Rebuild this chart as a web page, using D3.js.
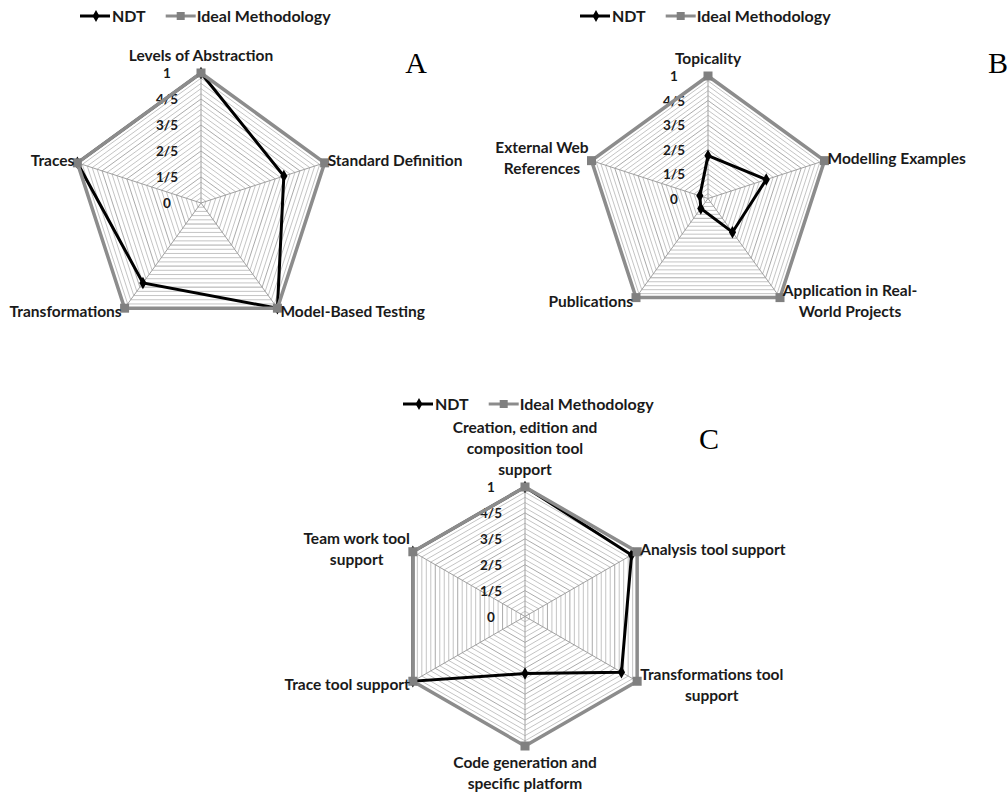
<!DOCTYPE html>
<html>
<head>
<meta charset="utf-8">
<script src="https://d3js.org/d3.v7.min.js"></script>
<title>NDT radar charts</title>
<style>
  body { margin: 0; background: #fff; }
  text { font-family: Lato, "Open Sans", sans-serif; font-weight: bold; fill: #1a1a1a; }
  .letter { font-family: "Liberation Serif", "DejaVu Serif", serif; font-weight: normal; fill: #000; }
</style>
</head>
<body>
<svg id="chart" width="1008" height="794"></svg>
<script>
// data
var series = ["NDT", "Ideal Methodology"];
var tickValues = [0, 0.2, 0.4, 0.6, 0.8, 1];
var tickLabels = ["0", "1/5", "2/5", "3/5", "4/5", "1"];

var axesA = [["Levels of Abstraction"], ["Standard Definition"], ["Model-Based Testing"], ["Transformations"], ["Traces"]];
var ndtA = [1, 0.67, 1, 0.76, 1];
var idealA = [1, 1, 1, 1, 1];

var axesB = [["Topicality"], ["Modelling Examples"], ["Application in Real-", "World Projects"], ["Publications"], ["External Web", "References"]];
var ndtB = [0.35, 0.5, 0.34, 0.1, 0.07];
var idealB = [1, 1, 1, 1, 1];

var axesC = [["Creation, edition and", "composition tool", "support"], ["Analysis tool support"], ["Transformations tool", "support"],
             ["Code generation and", "specific platform"], ["Trace tool support"], ["Team work tool", "support"]];
var ndtC = [1, 0.95, 0.86, 0.44, 1, 1];
var idealC = [1, 1, 1, 1, 1, 1];

var svg = d3.select("#chart");

function legend(x, y) {
  var g = svg.append("g").attr("transform", "translate(" + x + "," + y + ")");
  // NDT
  g.append("line").attr("x1", 0).attr("x2", 30).attr("stroke", "#000").attr("stroke-width", 3);
  g.append("path").attr("d", d3.symbol(d3.symbolDiamond, 40)()).attr("transform", "translate(16,0)").attr("fill", "#000");
  var t1 = g.append("text").attr("x", 32).attr("y", 5.5).style("font-size", "16px").text(series[0]);
  var x2 = 32 + t1.node().getComputedTextLength() + 20;
  g.append("line").attr("x1", x2).attr("x2", x2 + 30).attr("stroke", "#8c8c8c").attr("stroke-width", 3);
  g.append("rect").attr("x", x2 + 11).attr("y", -4).attr("width", 8).attr("height", 8).attr("fill", "#808080");
  g.append("text").attr("x", x2 + 31).attr("y", 5.5).style("font-size", "16px").text(series[1]);
}

function radar(o) {
  var n = o.axes.length;
  var g = svg.append("g").attr("transform", "translate(" + o.cx + "," + o.cy + ")");
  var r = d3.scaleLinear().domain([0, 1]).range([0, o.r]);
  var ang = function(i) { return i * 2 * Math.PI / n; };
  var px = function(v, i) { return r(v) * Math.sin(ang(i)); };
  var py = function(v, i) { return -r(v) * Math.cos(ang(i)); };
  var line = d3.lineRadial()
    .angle(function(d, i) { return ang(i); })
    .radius(function(d) { return r(d); })
    .curve(d3.curveLinearClosed);

  // concentric gridlines (minor every 1/25)
  var rings = d3.range(1, 26).map(function(k) { return k / 25; });
  g.selectAll(".ring").data(rings).enter().append("path")
    .attr("d", function(v) { return line(o.axes.map(function() { return v; })); })
    .attr("fill", "none")
    .attr("stroke", function(v, i) { return (i + 1) % 5 == 0 ? "#a0a0a0" : "#bdbdbd"; })
    .attr("stroke-width", 0.9);

  // spokes
  g.selectAll(".spoke").data(o.axes).enter().append("line")
    .attr("x1", 0).attr("y1", 0)
    .attr("x2", function(d, i) { return px(1, i); })
    .attr("y2", function(d, i) { return py(1, i); })
    .attr("stroke", "#a0a0a0").attr("stroke-width", 1);

  // tick labels
  g.selectAll(".tick").data(tickValues).enter().append("text")
    .attr("x", -34).attr("y", function(v) { return -r(v) + 5; })
    .attr("text-anchor", "middle")
    .style("font-size", "13.5px")
    .text(function(v, i) { return tickLabels[i]; });

  // NDT series
  g.append("path").attr("d", line(o.ndt)).attr("fill", "none").attr("stroke", "#000").attr("stroke-width", 3);
  g.selectAll(".ndt").data(o.ndt).enter().append("path")
    .attr("d", d3.symbol(d3.symbolDiamond, 45)())
    .attr("transform", function(v, i) { return "translate(" + px(v, i) + "," + py(v, i) + ")"; })
    .attr("fill", "#000");

  // Ideal series
  g.append("path").attr("d", line(o.ideal)).attr("fill", "none").attr("stroke", "#8c8c8c").attr("stroke-width", 3.5);
  g.selectAll(".ideal").data(o.ideal).enter().append("rect")
    .attr("x", function(v, i) { return px(v, i) - 4.5; })
    .attr("y", function(v, i) { return py(v, i) - 4.5; })
    .attr("width", 9).attr("height", 9)
    .attr("fill", "#808080");

  // category labels
  var lh = 21;
  o.axes.forEach(function(lines, i) {
    var vx = px(1, i), vy = py(1, i);
    var s = Math.sin(ang(i)), c = Math.cos(ang(i));
    var t = g.append("text").style("font-size", "15.5px").attr("text-anchor", "middle");
    var spans = lines.map(function(l) { return t.append("tspan").text(l); });
    var w = d3.max(spans, function(sp) { return sp.node().getComputedTextLength(); });
    var x, y0;
    if (Math.abs(s) < 1e-6) {
      x = 0;
      if (c > 0) y0 = vy - 12 - (lines.length - 1) * lh;
      else y0 = vy + 22;
    } else {
      x = s > 0 ? vx + 3 + w / 2 : vx - 3 - w / 2;
      var mid = vy + (c > 0 ? -2.5 : 3.5);
      y0 = mid - (lines.length - 1) * lh / 2 + 5.5;
    }
    spans.forEach(function(sp, k) { sp.attr("x", x).attr("y", y0 + k * lh); });
  });
}

legend(80, 16);
radar({cx: 201, cy: 203, r: 130, axes: axesA, ndt: ndtA, ideal: idealA});
svg.append("text").attr("class", "letter").attr("x", 416).attr("y", 73).attr("text-anchor", "middle").style("font-size", "30px").text("A");

legend(580, 16);
radar({cx: 708, cy: 198.5, r: 122.5, axes: axesB, ndt: ndtB, ideal: idealB});
svg.append("text").attr("class", "letter").attr("x", 988).attr("y", 73).style("font-size", "30px").text("B");

legend(403, 404);
radar({cx: 525, cy: 616.5, r: 129.5, axes: axesC, ndt: ndtC, ideal: idealC});
svg.append("text").attr("class", "letter").attr("x", 709).attr("y", 449).attr("text-anchor", "middle").style("font-size", "30px").text("C");
</script>
</body>
</html>
